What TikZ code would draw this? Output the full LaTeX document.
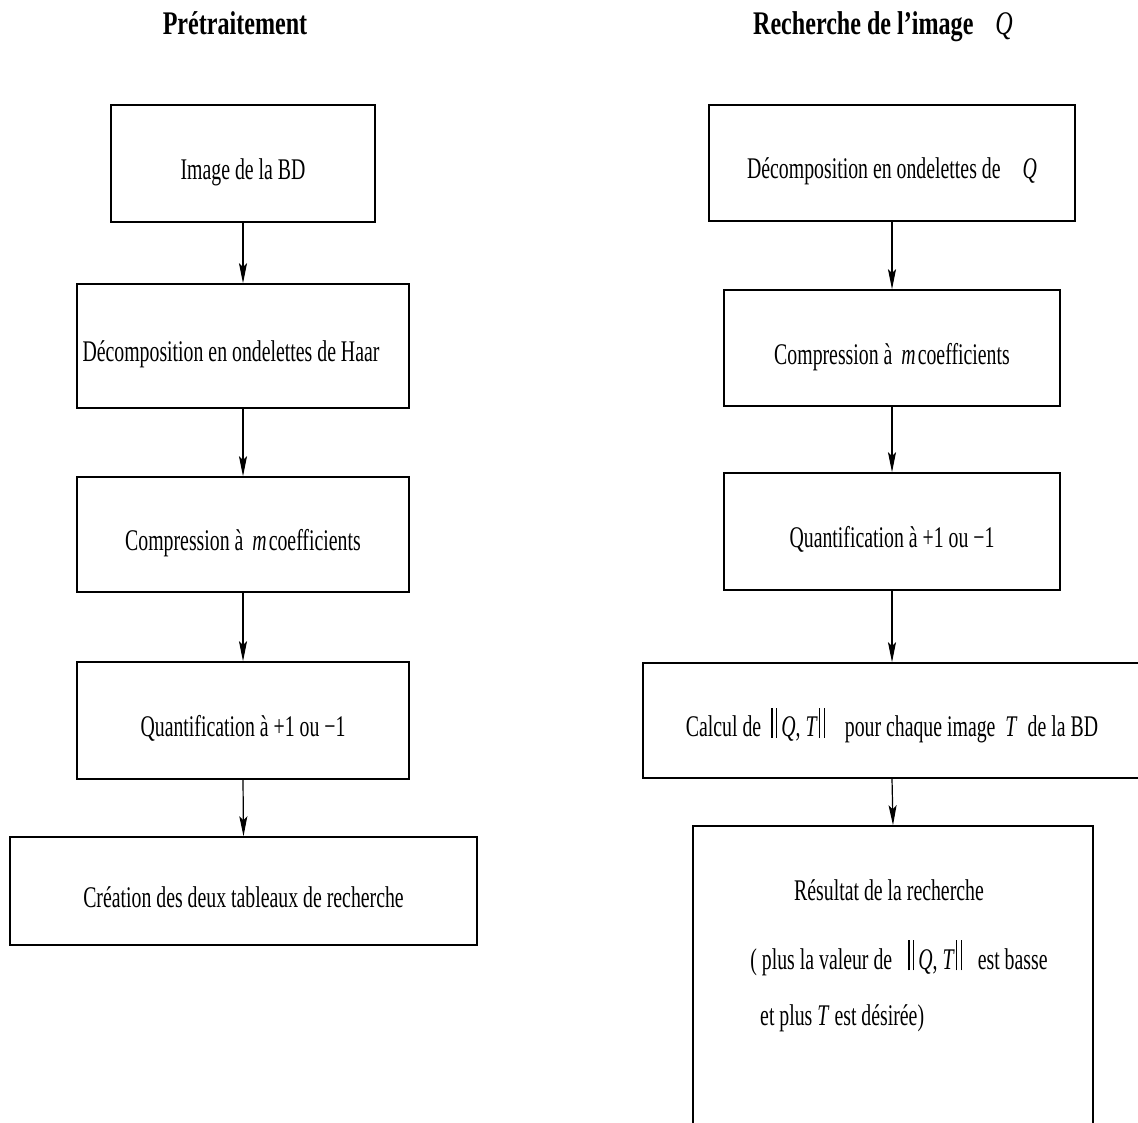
\documentclass[tikz,border=0pt]{standalone}
\usepackage{fontspec}
\setmainfont{Liberation Serif}[FakeStretch=0.66]
\newfontfamily\titlefont{Liberation Serif}[FakeStretch=0.73]
\usetikzlibrary{arrows.meta}
\newcommand\nrmbars{\rule[-1pt]{1.3pt}{30pt}\kern3.5pt\rule[-1pt]{1.3pt}{30pt}}
\begin{document}
\begin{tikzpicture}[x=1pt,y=-1pt,
  box/.style={draw, line width=1.5pt, inner sep=0pt, align=center, text height=32pt, text depth=0pt, font=\fontsize{30}{36}\selectfont},
  lbl/.style={inner sep=0pt, font=\fontsize{30}{36}\selectfont},
  ttl/.style={inner sep=0pt, anchor=base, font=\titlefont\bfseries\fontsize{33}{40}\selectfont},
  arr/.style={line width=1.2pt, -{Stealth[length=20pt,width=8pt,inset=4pt]}}]
\useasboundingbox (0,0) rectangle (1138,1123);
\clip (0,0) rectangle (1138,1123);

% titles
\node[ttl] (t1) at (235,35) {Prétraitement};
\node[ttl] (t2) at (883,35) {Recherche de l’image\kern22pt{\mdseries\itshape Q}};

% left column
\node[box, minimum width=264, minimum height=117] (l1) at (243,163.5) {Image de la BD};
\node[box, minimum width=332, minimum height=124] (l2) at (243,346) {\hbox{Décomposition en ondelettes de Haar\kern24pt}};
\node[box, minimum width=332, minimum height=115] (l3) at (243,534.5) {Compression à\kern9pt\textit{m}\kern2pt coefficients};
\node[box, minimum width=332, minimum height=117] (l4) at (243,720.5) {Quantification à +1 ou −1};
\node[box, minimum width=467, minimum height=108] (l5) at (243.5,891) {Création des deux tableaux de recherche};

% right column
\node[box, minimum width=366, minimum height=116] (r1) at (892,163) {Décomposition en ondelettes de\kern22pt\textit{Q}};
\node[box, minimum width=336, minimum height=116] (r2) at (892,348) {Compression à\kern9pt\textit{m}\kern2pt coefficients};
\node[box, minimum width=336, minimum height=117] (r3) at (892,531.5) {Quantification à +1 ou −1};
\node[box, minimum width=498, minimum height=115] (r4) at (892,720.5) {Calcul de\kern10pt\nrmbars\kern4pt\textit{Q}, \textit{T}\kern1pt\nrmbars\kern20pt pour chaque image\kern10pt\textit{T}\kern10pt de la BD};
\node[box, minimum width=400, minimum height=374] (r5) at (893,1013) {};
\node[lbl] (r5a) at (889,890) {Résultat de la recherche};
\node[lbl] (r5b) at (899,958) {( plus la valeur de\kern16pt\nrmbars\kern4pt\textit{Q}, \textit{T}\kern1pt\nrmbars\kern16pt est basse};
\node[lbl, anchor=west] (r5c) at (760,1018) {et plus \textit{T} est désirée)};

% connectors
\draw[arr] (l1.south) -- (l2.north);
\draw[arr] (l2.south) -- (l3.north);
\draw[arr] (l3.south) -- (l4.north);
\draw[arr] (l4.south) -- (l5.north);
\draw[arr] (r1.south) -- (r2.north);
\draw[arr] (r2.south) -- (r3.north);
\draw[arr] (r3.south) -- (r4.north);
\draw[arr] (r4.south) -- (r5.north);
\end{tikzpicture}
\end{document}
